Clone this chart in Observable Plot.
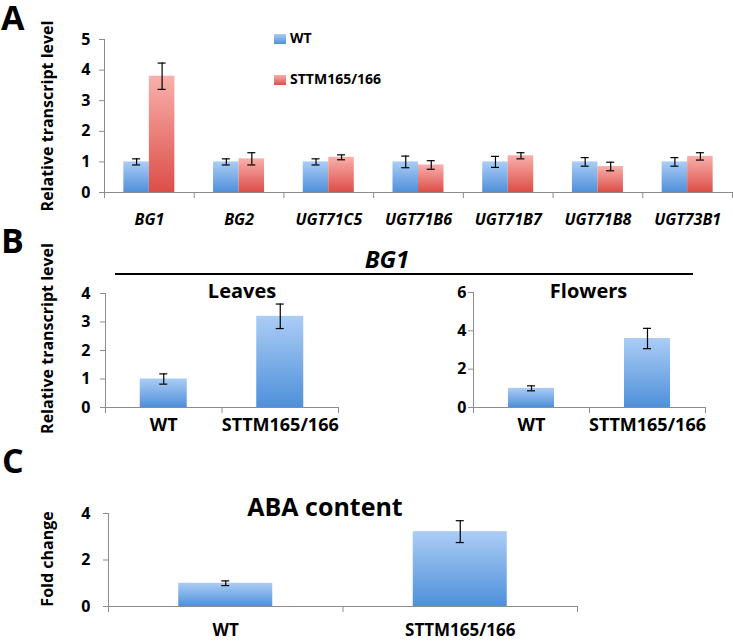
<!DOCTYPE html>
<html>
<head>
<meta charset="utf-8">
<script src="https://cdn.jsdelivr.net/npm/d3@7"></script>
<script src="https://cdn.jsdelivr.net/npm/@observablehq/plot@0.6"></script>
<style>
  html, body { margin: 0; padding: 0; background: #fff; }
  #root { position: relative; width: 733px; height: 641px; background: #fff; font-family: "Open Sans", sans-serif; font-weight: bold; color: #000; }
  .abs { position: absolute; line-height: 1; white-space: nowrap; }
  .letter { font-size: 34px; font-weight: bold; line-height: 1; }
  .sw { position: absolute; width: 12px; height: 10px; }
</style>
</head>
<body>
<svg width="0" height="0" style="position:absolute">
  <defs>
    <linearGradient id="gBlue" x1="0" y1="0" x2="0" y2="1">
      <stop offset="0" stop-color="#abcdf6"/>
      <stop offset="1" stop-color="#4f90da"/>
    </linearGradient>
    <linearGradient id="gRed" x1="0" y1="0" x2="0" y2="1">
      <stop offset="0" stop-color="#f9b0ac"/>
      <stop offset="1" stop-color="#dc4e48"/>
    </linearGradient>
  </defs>
</svg>
<div id="root">
  <div class="abs letter" style="left:1px;top:0px;">A</div>
  <div class="abs letter" style="left:1px;top:223px;">B</div>
  <div class="abs letter" style="left:2px;top:443px;">C</div>
  <div class="sw" style="left:274px;top:34px;background:linear-gradient(#abcdf6,#4f90da);"></div>
  <div class="abs" style="left:290px;top:31px;font-size:14px;">WT</div>
  <div class="sw" style="left:274px;top:75px;background:linear-gradient(#f9b0ac,#dc4e48);"></div>
  <div class="abs" style="left:290px;top:72px;font-size:14px;">STTM165/166</div>
  <div class="abs" style="left:387px;top:247px;font-size:24px;font-style:italic;transform:translateX(-50%);">BG1</div>
  <div class="abs" style="left:115px;top:273px;width:578px;height:2px;background:#000;"></div>
</div>
<script>
// ---------- data ----------
const series = ["WT", "STTM165/166"];
const genes = ["BG1", "BG2", "UGT71C5", "UGT71B6", "UGT71B7", "UGT71B8", "UGT73B1"];
const wtA = [1, 1, 1, 1, 1, 1, 1];
const wtAErr = [0.1, 0.1, 0.1, 0.19, 0.18, 0.14, 0.14];
const sttmA = [3.8, 1.1, 1.15, 0.9, 1.2, 0.85, 1.18];
const sttmAErr = [0.43, 0.2, 0.08, 0.14, 0.1, 0.14, 0.12];
const ticksA = [0, 1, 2, 3, 4, 5];

const groups = ["WT", "STTM165/166"];
const leaves = [1.0, 3.2];
const leavesErr = [0.18, 0.43];
const ticksLeaves = [0, 1, 2, 3, 4];
const flowers = [1.0, 3.6];
const flowersErr = [0.13, 0.53];
const ticksFlowers = [0, 2, 4, 6];
const aba = [1.0, 3.22];
const abaErr = [0.1, 0.47];
const ticksAba = [0, 2, 4];

const yLabelA = "Relative transcript level";
const yLabelC = "Fold change";

// ---------- helpers ----------
const root = document.getElementById("root");
function place(svg, left, top) {
  svg.style.position = "absolute";
  svg.style.left = left + "px";
  svg.style.top = top + "px";
  root.appendChild(svg);
}
const baseStyle = {fontFamily: "Open Sans, sans-serif", fontWeight: "bold", fontSize: "16px", color: "#000", background: "transparent", overflow: "visible"};
const gray = "#8c8c8c";
const fmt = d3.format("d");

function yAxisMarks(ticks, yMax, textOffset) {
  return [
    Plot.ruleX([0], {y1: 0, y2: yMax, stroke: gray}),
    Plot.axisY({ticks, tickSize: 5, tickFormat: () => "", color: gray, label: null}),
    Plot.axisY({ticks, tickSize: 0, tickPadding: textOffset, tickFormat: fmt, fill: "#000", fontSize: 16, fontWeight: "bold", label: null})
  ];
}

// ---------- Panel A ----------
{
  const bw = 25.5 / 89.7;
  const rows = [];
  genes.forEach((g, i) => {
    rows.push({i, s: series[0], x1: i + 0.5 - bw, x2: i + 0.5, v: wtA[i], e: wtAErr[i]});
    rows.push({i, s: series[1], x1: i + 0.5, x2: i + 0.5 + bw, v: sttmA[i], e: sttmAErr[i]});
  });
  const svg = Plot.plot({
    width: 733, height: 232,
    marginLeft: 104, marginRight: 1, marginTop: 39, marginBottom: 40,
    style: baseStyle,
    x: {type: "linear", domain: [0, genes.length]},
    y: {domain: [0, 5]},
    marks: [
      Plot.rectY(rows.filter(d => d.s === series[0]), {x1: "x1", x2: "x2", y: "v", fill: "url(#gBlue)"}),
      Plot.rectY(rows.filter(d => d.s === series[1]), {x1: "x1", x2: "x2", y: "v", fill: "url(#gRed)"}),
      Plot.ruleX(rows, {x: d => (d.x1 + d.x2) / 2, y1: d => d.v - d.e, y2: d => d.v + d.e, stroke: "#000", strokeWidth: 1.2}),
      Plot.ruleY(rows, {y: d => d.v + d.e, x1: d => (d.x1 + d.x2) / 2, x2: d => (d.x1 + d.x2) / 2, insetLeft: -4, insetRight: -4, stroke: "#000", strokeWidth: 1.2}),
      Plot.ruleY(rows, {y: d => d.v - d.e, x1: d => (d.x1 + d.x2) / 2, x2: d => (d.x1 + d.x2) / 2, insetLeft: -4, insetRight: -4, stroke: "#000", strokeWidth: 1.2}),
      Plot.ruleY([0], {stroke: gray}),
      Plot.axisX({ticks: d3.range(genes.length + 1), tickSize: 6, tickFormat: () => "", color: gray, label: null}),
      Plot.axisX({ticks: genes.map((g, i) => i + 0.5), tickFormat: v => genes[Math.floor(v)], tickSize: 0, tickPadding: 21, fill: "#000", fontSize: 16, fontStyle: "italic", fontWeight: "bold", label: null}),
      ...yAxisMarks(ticksA, 5, 14),
      Plot.text([yLabelA], {frameAnchor: "left", textAnchor: "middle", rotate: -90, dx: -57, dy: 0, fontSize: 16, fontWeight: "bold", fill: "#000"})
    ]
  });
  place(svg, 0, 0);
}

// ---------- Panel B / C helper ----------
function groupPlot({values, errs, ticks, yMax, width, left, top, height, mL, mR, mT, mB, title, titleSize, titleDx, titleDy, textOffsetY, labelOffsetX, labelSize, yLabel, yLabelDx, yLabelDy, barFrac}) {
  const rows = groups.map((g, i) => ({g, c: i + 0.5, v: values[i], e: errs[i]}));
  const marks = [
    Plot.rectY(rows, {x1: d => d.c - barFrac / 2, x2: d => d.c + barFrac / 2, y: "v", fill: "url(#gBlue)"}),
    Plot.ruleX(rows, {x: "c", y1: d => d.v - d.e, y2: d => d.v + d.e, stroke: "#000", strokeWidth: 1.2}),
    Plot.ruleY(rows, {y: d => d.v + d.e, x1: "c", x2: "c", insetLeft: -4, insetRight: -4, stroke: "#000", strokeWidth: 1.2}),
    Plot.ruleY(rows, {y: d => d.v - d.e, x1: "c", x2: "c", insetLeft: -4, insetRight: -4, stroke: "#000", strokeWidth: 1.2}),
    Plot.ruleY([0], {stroke: gray}),
    Plot.axisX({ticks: d3.range(groups.length + 1), tickSize: 6, tickFormat: () => "", color: gray, label: null}),
    Plot.axisX({ticks: groups.map((g, i) => i + 0.5), tickFormat: v => groups[Math.floor(v)], tickSize: 0, tickPadding: labelOffsetX, fill: "#000", fontSize: labelSize, fontWeight: "bold", label: null}),
    ...yAxisMarks(ticks, yMax, textOffsetY),
    Plot.text([title], {frameAnchor: "top", textAnchor: "middle", lineAnchor: "middle", dx: titleDx, dy: titleDy, fontSize: titleSize, fontWeight: "bold", fill: "#000"})
  ];
  if (yLabel) marks.push(Plot.text([yLabel], {frameAnchor: "left", textAnchor: "middle", rotate: -90, dx: yLabelDx, dy: yLabelDy, fontSize: 16, fontWeight: "bold", fill: "#000"}));
  const svg = Plot.plot({
    width, height, marginLeft: mL, marginRight: mR, marginTop: mT, marginBottom: mB,
    style: baseStyle,
    x: {type: "linear", domain: [0, groups.length]},
    y: {domain: [0, yMax]},
    marks
  });
  place(svg, left, top);
}

// Leaves
groupPlot({values: leaves, errs: leavesErr, ticks: ticksLeaves, yMax: 4,
  width: 345, left: 0, top: 236, height: 210, mL: 105, mR: 7, mT: 57, mB: 39,
  title: "Leaves", titleSize: 20, titleDx: 20, titleDy: -2, textOffsetY: 15, labelOffsetX: 11, labelSize: 18,
  yLabel: yLabelA, yLabelDx: -58, yLabelDy: -12, barFrac: 47 / 116.5});

// Flowers
groupPlot({values: flowers, errs: flowersErr, ticks: ticksFlowers, yMax: 6,
  width: 373, left: 360, top: 236, height: 210, mL: 113, mR: 28, mT: 56, mB: 39,
  title: "Flowers", titleSize: 20, titleDx: -1, titleDy: -1, textOffsetY: 7, labelOffsetX: 11, labelSize: 18,
  yLabel: null, barFrac: 46 / 116});

// ABA content
groupPlot({values: aba, errs: abaErr, ticks: ticksAba, yMax: 4,
  width: 733, left: 0, top: 446, height: 195, mL: 108, mR: 156, mT: 67, mB: 35,
  title: "ABA content", titleSize: 25, titleDx: -18, titleDy: -6, textOffsetY: 18, labelOffsetX: 17, labelSize: 17,
  yLabel: yLabelC, yLabelDx: -61, yLabelDy: -1, barFrac: 94 / 234.5});
</script>
</body>
</html>
